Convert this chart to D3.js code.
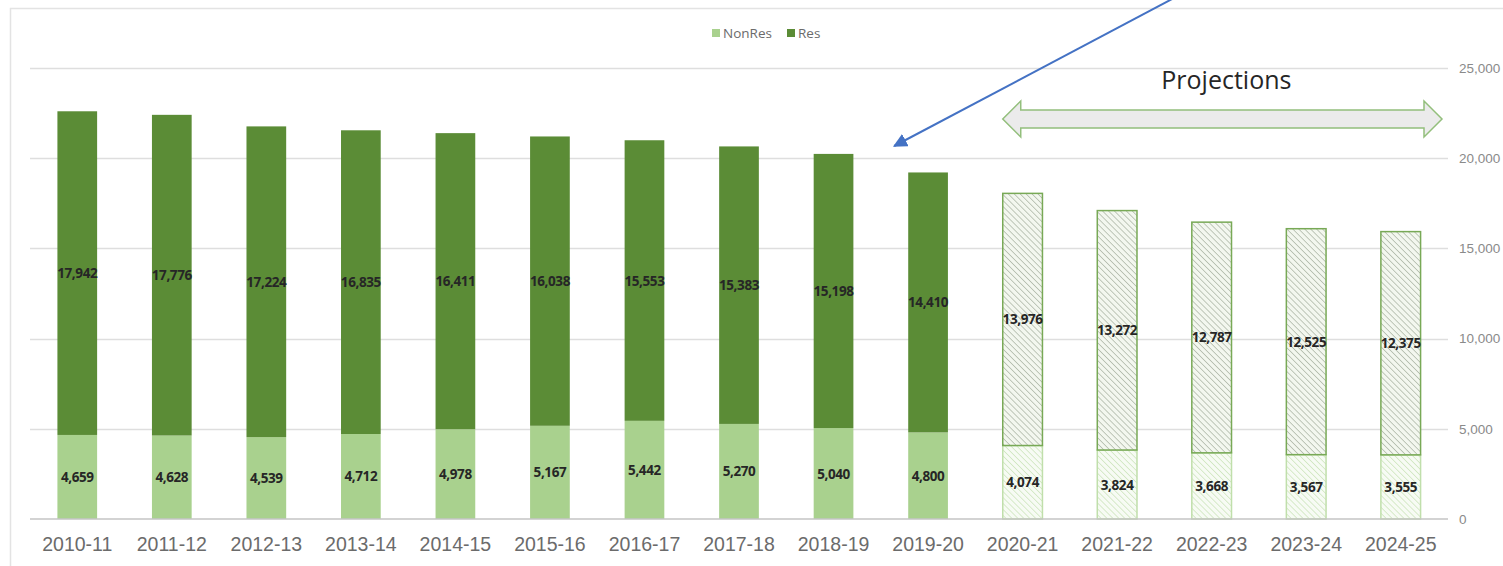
<!DOCTYPE html>
<html>
<head>
<meta charset="utf-8">
<script src="https://cdn.jsdelivr.net/npm/d3@7"></script>
<style>
  body { margin: 0; background: #fff; }
  svg { display: block; font-family: "Open Sans", "Liberation Sans", sans-serif; }
</style>
</head>
<body>
<div id="chart"></div>
<script>
// Chart data
var years = ["2010-11", "2011-12", "2012-13", "2013-14", "2014-15", "2015-16", "2016-17",
  "2017-18", "2018-19", "2019-20", "2020-21", "2021-22", "2022-23", "2023-24", "2024-25"];
var nonRes = [4659, 4628, 4539, 4712, 4978, 5167, 5442, 5270, 5040, 4800, 4074, 3824, 3668, 3567, 3555];
var res = [17942, 17776, 17224, 16835, 16411, 16038, 15553, 15383, 15198, 14410, 13976, 13272, 12787, 12525, 12375];
var projectionStart = "2020-21";
var yTicks = [0, 5000, 10000, 15000, 20000, 25000];

// SVG area
var svgWidth = 1503;
var svgHeight = 566;

var svg = d3.select("#chart")
  .append("svg")
  .attr("width", svgWidth)
  .attr("height", svgHeight);

// hatch patterns for projected bars
var defs = svg.append("defs");

function hatch(id, bg, line) {
  var p = defs.append("pattern")
    .attr("id", id)
    .attr("patternUnits", "userSpaceOnUse")
    .attr("width", 4.2)
    .attr("height", 4.2)
    .attr("patternTransform", "rotate(-45)");
  p.append("rect").attr("width", 4.2).attr("height", 4.2).attr("fill", bg);
  p.append("line")
    .attr("x1", 0).attr("y1", 0).attr("x2", 0).attr("y2", 4.2)
    .attr("stroke", line)
    .attr("stroke-width", 1.3);
}
hatch("hatchRes", "#f3f7ef", "#a3ad9c");
hatch("hatchNonRes", "#f7fbf4", "#c6e2b3");

defs.append("marker")
  .attr("id", "blueHead")
  .attr("viewBox", "0 0 10 10")
  .attr("refX", 9)
  .attr("refY", 5)
  .attr("markerWidth", 7)
  .attr("markerHeight", 7)
  .attr("orient", "auto")
  .append("path")
  .attr("d", "M0,0 L10,5 L0,10 z")
  .attr("fill", "#4472c4");

// outer frame
svg.append("path")
  .attr("d", "M10.5,570 V8.5 H1510")
  .attr("fill", "none")
  .attr("stroke", "#e3e3e3")
  .attr("stroke-width", 1.5);

// scales
var x = d3.scaleBand()
  .domain(years)
  .range([30, 1448])
  .paddingInner(0.58)
  .paddingOuter(0.29);

var y = d3.scaleLinear()
  .domain([0, 25000])
  .range([519, 68]);

// gridlines
svg.append("g")
  .selectAll("line")
  .data(yTicks.filter(d => d > 0))
  .enter()
  .append("line")
  .attr("x1", 30)
  .attr("x2", 1448)
  .attr("y1", d => Math.round(y(d)) + 0.5)
  .attr("y2", d => Math.round(y(d)) + 0.5)
  .attr("stroke", "#dedede")
  .attr("stroke-width", 1.5);

// right axis labels
var rightAxis = d3.axisRight(y)
  .tickValues(yTicks)
  .tickSize(0)
  .tickPadding(0)
  .tickFormat(d3.format(","));

var yAxis = svg.append("g")
  .attr("transform", "translate(1459, 0)")
  .call(rightAxis);
yAxis.select(".domain").remove();
yAxis.selectAll("text")
  .attr("fill", "#8a8a8a")
  .style("font-size", "13.5px");

var projIndex = years.indexOf(projectionStart);

// bars
var barGroups = svg.append("g")
  .selectAll("g")
  .data(years)
  .enter()
  .append("g");

barGroups.append("rect")
  .attr("x", d => x(d))
  .attr("width", x.bandwidth())
  .attr("y", (d, i) => y(nonRes[i]))
  .attr("height", (d, i) => y(0) - y(nonRes[i]))
  .attr("fill", (d, i) => i >= projIndex ? "url(#hatchNonRes)" : "#a9d18e")
  .attr("stroke", (d, i) => i >= projIndex ? "#c0dfab" : "none")
  .attr("stroke-width", 1.5);

barGroups.append("rect")
  .attr("x", d => x(d))
  .attr("width", x.bandwidth())
  .attr("y", (d, i) => y(nonRes[i] + res[i]))
  .attr("height", (d, i) => y(nonRes[i]) - y(nonRes[i] + res[i]))
  .attr("fill", (d, i) => i >= projIndex ? "url(#hatchRes)" : "#5b8c36")
  .attr("stroke", (d, i) => i >= projIndex ? "#78a956" : "none")
  .attr("stroke-width", 1.5);

// data labels
var fmt = d3.format(",");

barGroups.append("text")
  .attr("x", d => x(d) + x.bandwidth() / 2)
  .attr("y", (d, i) => y(nonRes[i] + res[i] / 2) + 5)
  .attr("text-anchor", "middle")
  .attr("fill", "#262626")
  .style("font-size", "13.5px")
  .style("font-weight", "bold")
  .style("letter-spacing", "-0.4px")
  .text((d, i) => fmt(res[i]));

barGroups.append("text")
  .attr("x", d => x(d) + x.bandwidth() / 2)
  .attr("y", (d, i) => y(nonRes[i] / 2) + 5)
  .attr("text-anchor", "middle")
  .attr("fill", "#262626")
  .style("font-size", "13.5px")
  .style("font-weight", "bold")
  .style("letter-spacing", "-0.4px")
  .text((d, i) => fmt(nonRes[i]));

// baseline
svg.append("line")
  .attr("x1", 30)
  .attr("x2", 1448)
  .attr("y1", y(0))
  .attr("y2", y(0))
  .attr("stroke", "#c4c4c4")
  .attr("stroke-width", 1.5);

// x axis labels
var bottomAxis = d3.axisBottom(x).tickSize(0).tickPadding(0);
var xAxis = svg.append("g")
  .attr("transform", "translate(0, 537)")
  .call(bottomAxis);
xAxis.select(".domain").remove();
xAxis.selectAll("text")
  .attr("fill", "#6b6b6b")
  .attr("dy", "0.72em")
  .style("font-size", "19.5px");

// legend
var legendItems = [
  { name: "NonRes", color: "#a9d18e", x: 712 },
  { name: "Res", color: "#5b8c36", x: 787 }
];
var legend = svg.append("g")
  .selectAll("g")
  .data(legendItems)
  .enter()
  .append("g")
  .attr("transform", d => `translate(${d.x}, 29)`);
legend.append("rect")
  .attr("width", 8)
  .attr("height", 8)
  .attr("fill", d => d.color);
legend.append("text")
  .attr("x", 11)
  .attr("y", 8.5)
  .attr("fill", "#6b6b6b")
  .style("font-size", "13.5px")
  .text(d => d.name);

// projections annotation
var left = x(projectionStart);
var right = x.range()[1] - 6;
var cy = 119;
svg.append("path")
  .attr("d", `M${left},${cy} L${left + 18},${cy - 18} L${left + 18},${cy - 9}
    L${right - 18},${cy - 9} L${right - 18},${cy - 18} L${right},${cy}
    L${right - 18},${cy + 18} L${right - 18},${cy + 9} L${left + 18},${cy + 9}
    L${left + 18},${cy + 18} Z`)
  .attr("fill", "#ebebeb")
  .attr("stroke", "#93bf7c")
  .attr("stroke-width", 1.5);

svg.append("text")
  .attr("x", (left + right) / 2 + 4)
  .attr("y", 89)
  .attr("text-anchor", "middle")
  .attr("fill", "#262626")
  .style("font-size", "25px")
  .text("Projections");

// blue pointer arrow
svg.append("line")
  .attr("x1", 1174)
  .attr("y1", -2)
  .attr("x2", x("2019-20") - 14)
  .attr("y2", 146)
  .attr("stroke", "#4472c4")
  .attr("stroke-width", 2)
  .attr("marker-end", "url(#blueHead)");
</script>
</body>
</html>
